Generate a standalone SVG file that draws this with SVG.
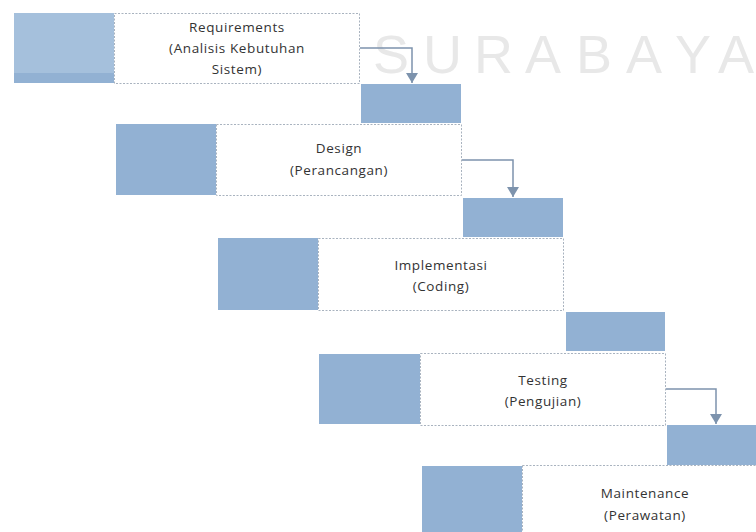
<svg xmlns="http://www.w3.org/2000/svg" width="756" height="532" viewBox="0 0 756 532">
<defs>
<style>
.blk{fill:#92b1d3}
.box{fill:#ffffff;stroke:#a9b3bf;stroke-width:1;stroke-dasharray:2 1.5}
.lbl{font-family:"Open Sans","Liberation Sans",sans-serif;font-size:13.5px;fill:#333333;text-anchor:middle;letter-spacing:0.6px}
.wm{font-family:"Liberation Sans",Arial,sans-serif;font-size:54px;fill:#e8e8e8}
.con{fill:none;stroke:#7d93ad;stroke-width:1.5}
</style>
<marker id="ah" viewBox="0 0 10 12" refX="10" refY="6" markerWidth="10" markerHeight="12" markerUnits="userSpaceOnUse" orient="auto">
<path d="M0,0 L10,6 L0,12 Z" fill="#7d93ad"/>
</marker>
</defs>
<rect width="756" height="532" fill="#ffffff"/>
<text class="wm" x="373 423 474 525 576 626 675 718" y="73">SURABAYA</text>

<g id="requirements">
<rect x="14" y="13" width="100" height="70" fill="#a5c0dc"/>
<rect x="14" y="73" width="100" height="10" class="blk"/>
<rect x="114.5" y="13.5" width="245" height="70" class="box"/>
<text class="lbl" x="237" y="32">Requirements</text>
<text class="lbl" x="237" y="53">(Analisis Kebutuhan</text>
<text class="lbl" x="237" y="74">Sistem)</text>
</g>
<rect x="361" y="84" width="100" height="39" class="blk"/>

<g id="design">
<rect x="116" y="124" width="100" height="71" class="blk"/>
<rect x="216.5" y="124.5" width="245" height="71" class="box"/>
<text class="lbl" x="339" y="153">Design</text>
<text class="lbl" x="339" y="175">(Perancangan)</text>
</g>
<rect x="463" y="198" width="100" height="39" class="blk"/>

<g id="implementasi">
<rect x="218" y="238" width="100" height="72" class="blk"/>
<rect x="318.5" y="238.5" width="245" height="72" class="box"/>
<text class="lbl" x="441" y="270">Implementasi</text>
<text class="lbl" x="441" y="291">(Coding)</text>
</g>
<rect x="566" y="312" width="99" height="39" class="blk"/>

<g id="testing">
<rect x="319" y="354" width="101" height="70" class="blk"/>
<rect x="420.5" y="353.5" width="245" height="72" class="box"/>
<text class="lbl" x="543" y="385">Testing</text>
<text class="lbl" x="543" y="406">(Pengujian)</text>
</g>
<rect x="667" y="425" width="95" height="40" class="blk"/>

<g id="maintenance">
<rect x="422" y="466" width="100" height="70" class="blk"/>
<rect x="522.5" y="465.5" width="250" height="80" class="box"/>
<text class="lbl" x="645" y="498">Maintenance</text>
<text class="lbl" x="645" y="520">(Perawatan)</text>
</g>

<g id="connectors">
<path class="con" d="M360,48 H412 V83" marker-end="url(#ah)"/>
<path class="con" d="M462,160 H513 V197" marker-end="url(#ah)"/>
<path class="con" d="M666,389 H716 V424" marker-end="url(#ah)"/>
</g>
</svg>
